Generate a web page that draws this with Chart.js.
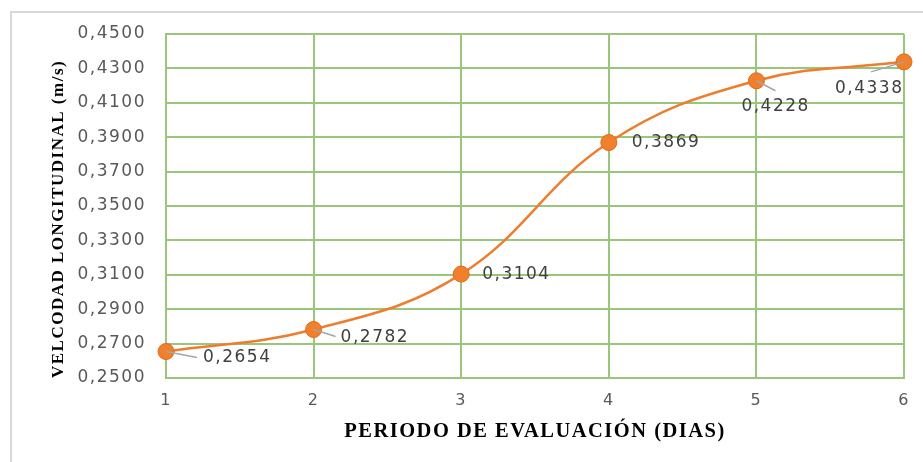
<!DOCTYPE html>
<html>
<head>
<meta charset="utf-8">
<script src="https://cdn.jsdelivr.net/npm/chart.js@4"></script>
<style>
    html, body { margin: 0; padding: 0; background: #fff; overflow: hidden; }
    #wrap { position: relative; width: 923px; height: 462px; overflow: hidden; }
    #frame { position: absolute; left: 10px; top: 11px; width: 940px; height: 470px; border: 2px solid #d9d9d9; box-sizing: border-box; }
    canvas { position: absolute; left: 0; top: 0; }
</style>
</head>
<body>
<div id="wrap">
    <div id="frame"></div>
    <canvas id="velChart" width="923" height="462"></canvas>
</div>
<script>
// Data
const dias = ['1', '2', '3', '4', '5', '6'];
const velocidad = [0.2654, 0.2782, 0.3104, 0.3869, 0.4228, 0.4338];
const yMin = 0.25;
const yMax = 0.45;
const yStep = 0.02;

// label placement (dx, dy from the point; leader end dx, dy or null)
const labelPlacement = [
    { dx: 37, dy: 6, lx: 31, ly: 6 },
    { dx: 27, dy: 8, lx: 22, ly: 7 },
    { dx: 21, dy: 0, lx: null },
    { dx: 23, dy: 0, lx: null },
    { dx: -15, dy: 26, lx: 19, ly: 10 },
    { dx: -69, dy: 27, lx: -33, ly: 10 }
];

const fmt = v => v.toFixed(4).replace('.', ',');

// the original text is a bit wide, so space the letters out a little
const wideText = {
    id: 'wideText',
    beforeDraw(chart) { chart.ctx.letterSpacing = '1.5px'; },
    afterDraw(chart) { chart.ctx.letterSpacing = '0px'; }
};

const dataLabels = {
    id: 'dataLabels',
    afterDatasetsDraw(chart) {
        const ctx = chart.ctx;
        const meta = chart.getDatasetMeta(0);
        ctx.save();
        ctx.font = '17px "DejaVu Sans"';
        ctx.letterSpacing = '1.5px';
        ctx.textBaseline = 'middle';
        ctx.textAlign = 'left';
        meta.data.forEach((pt, i) => {
            const p = labelPlacement[i];
            if (p.lx !== null) {
                ctx.strokeStyle = '#a6a6a6';
                ctx.lineWidth = 1.5;
                ctx.beginPath();
                ctx.moveTo(pt.x, pt.y);
                ctx.lineTo(pt.x + p.lx, pt.y + p.ly);
                ctx.stroke();
            }
            ctx.fillStyle = '#404040';
            ctx.fillText(fmt(velocidad[i]), pt.x + p.dx, pt.y + p.dy);
        });
        ctx.restore();
    }
};

const ctx = document.getElementById('velChart').getContext('2d');
new Chart(ctx, {
    type: 'line',
    data: {
        labels: dias,
        datasets: [{
            data: velocidad,
            borderColor: '#ED7D31',
            borderWidth: 2.5,
            tension: 0.4,
            pointRadius: 8,
            pointBackgroundColor: '#F07F2E',
            pointBorderColor: '#E06A1B',
            pointBorderWidth: 1,
            fill: false
        }]
    },
    options: {
        responsive: false,
        animation: false,
        layout: { padding: { left: 10, top: 34, right: 19, bottom: 10 } },
        plugins: {
            legend: { display: false },
            tooltip: { enabled: false }
        },
        scales: {
            x: {
                offset: false,
                afterFit: s => { s.height = 74; },
                grid: { color: '#9BC57A', lineWidth: 2, drawTicks: false },
                border: { color: '#9BC57A', width: 2 },
                ticks: { color: '#595959', font: { family: 'DejaVu Sans', size: 16 }, padding: 13 },
                title: {
                    display: true,
                    text: 'PERIODO DE EVALUACIÓN (DIAS)',
                    color: '#000',
                    font: { family: 'Liberation Serif', size: 20.5, weight: 'bold' },
                    padding: { bottom: 8 }
                }
            },
            y: {
                min: yMin,
                max: yMax,
                afterFit: s => { s.width = 156; },
                grid: { color: '#9BC57A', lineWidth: 2, drawTicks: false },
                border: { color: '#9BC57A', width: 2 },
                ticks: {
                    stepSize: yStep,
                    color: '#595959',
                    font: { family: 'DejaVu Sans', size: 17 },
                    padding: 20,
                    callback: v => fmt(v)
                },
                title: {
                    display: true,
                    align: 'start',
                    text: 'VELCODAD LONGITUDINAL (m/s)',
                    color: '#000',
                    font: { family: 'Liberation Serif', size: 17, weight: 'bold' },
                    padding: { top: 38 }
                }
            }
        }
    },
    plugins: [wideText, dataLabels]
});
</script>
</body>
</html>
